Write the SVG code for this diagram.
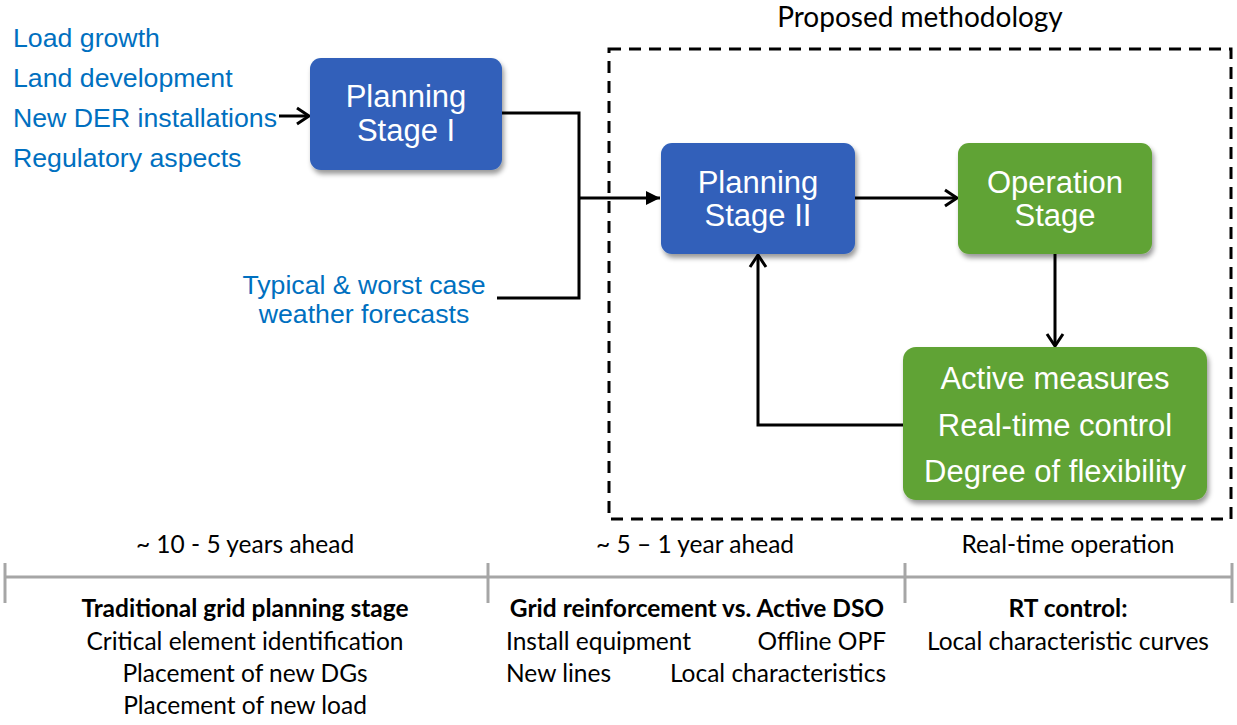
<svg xmlns="http://www.w3.org/2000/svg" width="1237" height="725" viewBox="0 0 1237 725">
<style>
.blue{font-family:"Liberation Sans",Arial,sans-serif;font-size:26.7px;fill:#0070C0}
.box{font-family:"Liberation Sans",Arial,sans-serif;font-size:31px;fill:#fff;text-anchor:middle}
.cal{font-family:Lato,"Open Sans",sans-serif;font-size:24.5px;fill:#000}
.b{font-weight:bold}
.mid{text-anchor:middle}
.end{text-anchor:end}
.conn{fill:none;stroke:#000;stroke-width:3}
.tl{stroke:#A6A6A6;stroke-width:3;fill:none}
</style>
<defs>
<filter id="sh" x="-10%" y="-10%" width="130%" height="140%">
<feDropShadow dx="2" dy="4" stdDeviation="2.5" flood-color="#000" flood-opacity="0.4"/>
</filter>
<marker id="open" markerUnits="userSpaceOnUse" markerWidth="20" markerHeight="20" viewBox="0 0 20 20" refX="17" refY="10" orient="auto">
<path d="M5,2 L17,10 L5,18" fill="none" stroke="#000" stroke-width="3"/>
</marker>
<marker id="solid" markerUnits="userSpaceOnUse" markerWidth="20" markerHeight="20" viewBox="0 0 20 20" refX="18" refY="10" orient="auto">
<path d="M4,3 L18,10 L4,17 Z" fill="#000"/>
</marker>
</defs>
<rect width="1237" height="725" fill="#fff"/>

<text x="920" y="27" class="cal mid" style="font-size:28px">Proposed methodology</text>
<rect x="609" y="49" width="622" height="470" fill="none" stroke="#000" stroke-width="3" stroke-dasharray="12,8"/>

<g id="inputs">
<text x="13" y="47" class="blue">Load growth</text>
<text x="13" y="87" class="blue">Land development</text>
<text x="13" y="127" class="blue">New DER installations</text>
<text x="13" y="167" class="blue">Regulatory aspects</text>
<text x="364" y="294" class="blue mid">Typical &amp; worst case</text>
<text x="364" y="323" class="blue mid">weather forecasts</text>
</g>

<g id="connectors">
<line x1="279" y1="116" x2="309" y2="116" class="conn" marker-end="url(#open)"/>
<polyline points="502,113 579,113 579,298 497,298" class="conn"/>
<line x1="579" y1="198" x2="660" y2="198" class="conn" marker-end="url(#solid)"/>
<line x1="855" y1="198" x2="957" y2="198" class="conn" marker-end="url(#open)"/>
<line x1="1055" y1="254" x2="1055" y2="346" class="conn" marker-end="url(#open)"/>
<polyline points="903,425 758,425 758,255" class="conn" marker-end="url(#open)"/>
</g>

<g id="planning1">
<rect x="310" y="58" width="192" height="112" rx="11" fill="#3061BA" filter="url(#sh)"/>
<text x="406" y="107" class="box">Planning</text>
<text x="406" y="141" class="box">Stage I</text>
</g>
<g id="planning2">
<rect x="661" y="143" width="194" height="111" rx="11" fill="#3061BA" filter="url(#sh)"/>
<text x="758" y="193" class="box">Planning</text>
<text x="758" y="226" class="box">Stage II</text>
</g>
<g id="operation">
<rect x="958" y="143" width="194" height="111" rx="11" fill="#61A334" filter="url(#sh)"/>
<text x="1055" y="193" class="box">Operation</text>
<text x="1055" y="226" class="box">Stage</text>
</g>
<g id="active">
<rect x="903" y="347" width="304" height="153" rx="13" fill="#61A334" filter="url(#sh)"/>
<text x="1055" y="389" class="box">Active measures</text>
<text x="1055" y="436" class="box">Real-time control</text>
<text x="1055" y="482" class="box">Degree of flexibility</text>
</g>

<g id="timeline">
<line x1="5" y1="577" x2="1232" y2="577" class="tl"/>
<line x1="5" y1="563" x2="5" y2="603" class="tl" stroke-width="2"/>
<line x1="488" y1="563" x2="488" y2="603" class="tl" stroke-width="2"/>
<line x1="905" y1="563" x2="905" y2="603" class="tl" stroke-width="2"/>
<line x1="1232" y1="563" x2="1232" y2="603" class="tl" stroke-width="2"/>
</g>

<g id="labels">
<text x="245" y="553" class="cal mid">~ 10 - 5 years ahead</text>
<text x="695" y="553" class="cal mid">~ 5 – 1 year ahead</text>
<text x="1068" y="553" class="cal mid">Real-time operation</text>
<text x="245" y="617" class="cal mid b">Traditional grid planning stage</text>
<text x="245" y="650" class="cal mid">Critical element identification</text>
<text x="245" y="682" class="cal mid">Placement of new DGs</text>
<text x="245" y="714" class="cal mid">Placement of new load</text>
<text x="697" y="617" class="cal mid b">Grid reinforcement vs. Active DSO</text>
<text x="506" y="650" class="cal">Install equipment</text>
<text x="886" y="650" class="cal end">Offline OPF</text>
<text x="506" y="682" class="cal">New lines</text>
<text x="886" y="682" class="cal end">Local characteristics</text>
<text x="1068" y="617" class="cal mid b">RT control:</text>
<text x="1068" y="650" class="cal mid">Local characteristic curves</text>
</g>
</svg>
